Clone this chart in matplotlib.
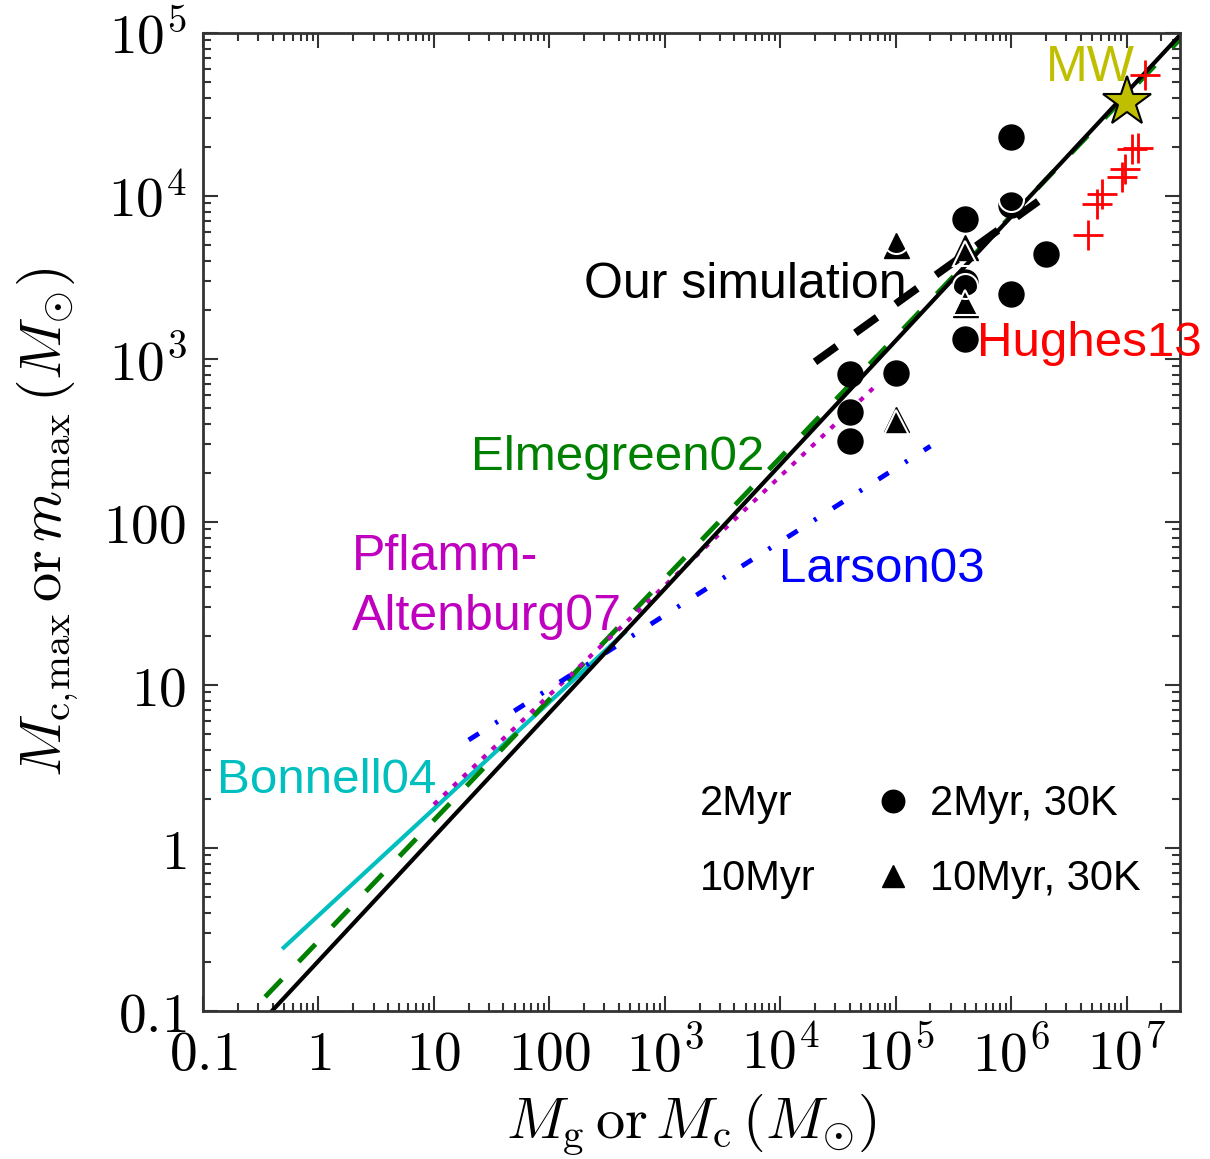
import matplotlib
matplotlib.use("Agg")
import matplotlib.pyplot as plt
from matplotlib.ticker import FixedLocator, FixedFormatter, LogLocator, NullFormatter

fit_x = [0.395, 2.9e7]
fit_y = [0.1, 9.7e4]
sim10_x = [2e4, 1.8e6]
sim10_y = [960, 9.5e3]
elm_x = [0.345, 3e7]
elm_y = [0.122, 9.4e4]
bon_x = [0.5, 450]
bon_y = [0.245, 21]
pflamm_x = [10, 7e4]
pflamm_y = [1.85, 705]
larson_x = [20, 2e5]
larson_y = [4.6, 292]

# simulation points
m2_30k_x = [4e4, 4e4, 4e4, 1e5, 4e5, 4e5, 4e5, 1e6, 1e6, 1e6, 2e6]
m2_30k_y = [815, 476, 312, 820, 7.2e3, 2.98e3, 1.33e3, 2.3e4, 8.8e3, 2.5e3, 4.4e3]
m10_30k_x = [1e5, 1e5, 4e5, 4e5]
m10_30k_y = [5.0e3, 426, 4.9e3, 2.18e3]
m2_x = [1e5, 4e5, 1e6]
m2_y = [5.3e3, 2.8e3, 9.6e3]
m10_x = [1e5, 4e5, 4e5]
m10_y = [410, 4.5e3, 2.25e3]

# observations
mw_x = [1e7]
mw_y = [3.8e4]
hughes_x = [4.6e6, 5.5e6, 6.1e6, 9.1e6, 9.7e6, 1.11e7, 1.25e7, 1.44e7]
hughes_y = [5.8e3, 8.9e3, 1.03e4, 1.3e4, 1.46e4, 1.94e4, 1.97e4, 5.5e4]

xticks = [0.1, 1, 10, 100, 1e3, 1e4, 1e5, 1e6, 1e7]
xticklabels = ['$0.1$', '$1$', '$10$', '$100$', '$10^{3}$', '$10^{4}$',
               '$10^{5}$', '$10^{6}$', '$10^{7}$']
yticks = [0.1, 1, 10, 100, 1e3, 1e4, 1e5]
yticklabels = ['$0.1$', '$1$', '$10$', '$100$', '$10^{3}$', '$10^{4}$', '$10^{5}$']

plt.rcParams['mathtext.fontset'] = 'cm'
sans = 'Liberation Sans'

fig = plt.figure(figsize=(12.1, 11.59), dpi=100)
ax = fig.add_axes([0.1678, 0.1277, 0.8074, 0.8438])
ax.set_xscale('log')
ax.set_yscale('log')

ax.plot(bon_x, bon_y, color='c', lw=3)
ax.plot(elm_x, elm_y, color='g', lw=3.5, dashes=(5, 5))
ax.plot(pflamm_x, pflamm_y, color='m', lw=3, dashes=(1.2, 2))
ax.plot(larson_x, larson_y, color='b', lw=3.5, dashes=(2.5, 4, 0.6, 4))
ax.plot(fit_x, fit_y, color='k', lw=3)
ax.plot(sim10_x, sim10_y, color='k', lw=5.5, dashes=(3.5, 3))

ax.plot(m2_30k_x, m2_30k_y, 'o', color='k', ms=18, ls='none', label='2Myr, 30K')
ax.plot(m10_30k_x, m10_30k_y, '^', color='k', ms=18, ls='none', label='10Myr, 30K')
ax.plot(m2_x, m2_y, 'o', mfc='none', mec='w', mew=1.5, ms=18, ls='none', label='2Myr')
ax.plot(m10_x, m10_y, '^', mfc='none', mec='w', mew=1.5, ms=18, ls='none', label='10Myr')

ax.plot(hughes_x, hughes_y, '+', color='r', ms=22, mew=2, ls='none')
ax.plot(mw_x, mw_y, '*', color='y', mec='k', mew=1.5, ms=37, ls='none')

# labels
ax.text(0.908, 0.964, 'MW', color='y', fontsize=36, family=sans,
        ha='center', va='center', transform=ax.transAxes)
ax.text(0.555, 0.742, 'Our simulation', color='k', fontsize=36, family=sans,
        ha='center', va='center', transform=ax.transAxes)
ax.text(0.907, 0.683, 'Hughes13', color='r', fontsize=35.5, family=sans,
        ha='center', va='center', transform=ax.transAxes, clip_on=False)
ax.text(0.424, 0.566, 'Elmegreen02', color='g', fontsize=35.5, family=sans,
        ha='center', va='center', transform=ax.transAxes)
ax.text(0.1525, 0.4335, 'Pflamm-\nAltenburg07', color='m', fontsize=36, family=sans,
        ha='left', va='center', linespacing=1.4, transform=ax.transAxes)
ax.text(0.695, 0.451, 'Larson03', color='b', fontsize=35.5, family=sans,
        ha='center', va='center', transform=ax.transAxes)
ax.text(0.127, 0.236, 'Bonnell04', color='c', fontsize=35.5, family=sans,
        ha='center', va='center', transform=ax.transAxes)

h, l = ax.get_legend_handles_labels()
order = [2, 3, 0, 1]
leg = ax.legend([h[i] for i in order], [l[i] for i in order], ncol=2,
                loc='upper left', bbox_to_anchor=(0.4535, 0.232), frameon=False,
                prop={'family': sans, 'size': 30}, handlelength=0.8,
                handletextpad=0.49, columnspacing=1.45, labelspacing=0.84,
                borderpad=0, borderaxespad=0, markerscale=0.9)

ax.set_xlim(0.1, 2.9e7)
ax.set_ylim(0.1, 1e5)
ax.xaxis.set_major_locator(FixedLocator(xticks))
ax.xaxis.set_major_formatter(FixedFormatter(xticklabels))
ax.yaxis.set_major_locator(FixedLocator(yticks))
ax.yaxis.set_major_formatter(FixedFormatter(yticklabels))
ax.xaxis.set_minor_locator(LogLocator(base=10, subs=range(2, 10), numticks=50))
ax.yaxis.set_minor_locator(LogLocator(base=10, subs=range(2, 10), numticks=50))
ax.xaxis.set_minor_formatter(NullFormatter())
ax.yaxis.set_minor_formatter(NullFormatter())
ax.tick_params(which='both', direction='in', top=True, right=True, width=1.5, colors='#333333')
ax.tick_params(which='major', length=11, labelsize=40, labelcolor='k', pad=12)
ax.tick_params(which='minor', length=5.5)
for s in ax.spines.values():
    s.set_linewidth(2)
    s.set_color('#333333')

ax.set_xlabel(r'$M_{\rm g}\,{\rm or}\,M_{\rm c}\,(M_{\odot})$', fontsize=42, labelpad=6)
ax.set_ylabel(r'$M_{\rm c,\!max}\,{\rm or}\,m_{\rm max}\,(M_{\odot})$', fontsize=42, labelpad=16)

fig.savefig('out.png', dpi=100)
